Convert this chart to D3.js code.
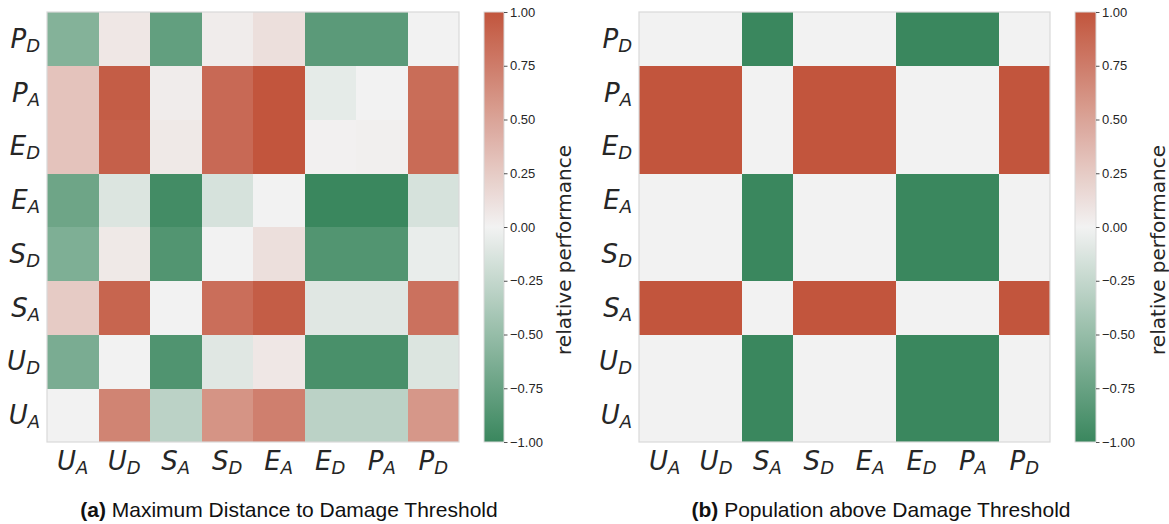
<!DOCTYPE html>
<html>
<head>
<meta charset="utf-8">
<script src="https://cdn.jsdelivr.net/npm/d3@7/dist/d3.min.js"></script>
<style>
  html, body { margin: 0; padding: 0; background: #ffffff; }
  svg { display: block; }
</style>
</head>
<body>
<svg id="chart" width="1169" height="524"></svg>
<script>
// Strategies: letter = main symbol, sub = subscript
const categories = [
  { main: "U", sub: "A" }, { main: "U", sub: "D" },
  { main: "S", sub: "A" }, { main: "S", sub: "D" },
  { main: "E", sub: "A" }, { main: "E", sub: "D" },
  { main: "P", sub: "A" }, { main: "P", sub: "D" }
];

// (a) relative performance, one row per strategy (same order as categories)
const distanceRowUA = [ 0.00,  0.70, -0.30,  0.60,  0.73, -0.30, -0.30,  0.58];
const distanceRowUD = [-0.65,  0.00, -0.88, -0.10,  0.07, -0.92, -0.92, -0.12];
const distanceRowSA = [ 0.25,  0.90,  0.00,  0.84,  0.95, -0.10, -0.10,  0.82];
const distanceRowSD = [-0.63,  0.06, -0.87,  0.00,  0.12, -0.87, -0.87, -0.05];
const distanceRowEA = [-0.72, -0.12, -0.95, -0.15,  0.00, -1.00, -1.00, -0.15];
const distanceRowED = [ 0.30,  0.93,  0.06,  0.87,  1.00,  0.01,  0.02,  0.86];
const distanceRowPA = [ 0.30,  0.95,  0.04,  0.87,  1.00, -0.07,  0.00,  0.85];
const distanceRowPD = [-0.60,  0.07, -0.78,  0.04,  0.12, -0.82, -0.82,  0.00];

// (b) relative performance, one row per strategy
const populationRowUA = [0, 0, -1, 0, 0, -1, -1, 0];
const populationRowUD = [0, 0, -1, 0, 0, -1, -1, 0];
const populationRowSA = [1, 1,  0, 1, 1,  0,  0, 1];
const populationRowSD = [0, 0, -1, 0, 0, -1, -1, 0];
const populationRowEA = [0, 0, -1, 0, 0, -1, -1, 0];
const populationRowED = [1, 1,  0, 1, 1,  0,  0, 1];
const populationRowPA = [1, 1,  0, 1, 1,  0,  0, 1];
const populationRowPD = [0, 0, -1, 0, 0, -1, -1, 0];

const colorbarTicks = [-1, -0.75, -0.5, -0.25, 0, 0.25, 0.5, 0.75, 1];
const colorbarLabel = "relative performance";
const panelTitles = [
  { tag: "(a)", text: " Maximum Distance to Damage Threshold" },
  { tag: "(b)", text: " Population above Damage Threshold" }
];

const distanceMatrix = [distanceRowUA, distanceRowUD, distanceRowSA, distanceRowSD,
                        distanceRowEA, distanceRowED, distanceRowPA, distanceRowPD];
const populationMatrix = [populationRowUA, populationRowUD, populationRowSA, populationRowSD,
                          populationRowEA, populationRowED, populationRowPA, populationRowPD];

// diverging green - light grey - red map
const color = d3.scaleLinear()
  .domain([-1, 0, 1])
  .range(["#3a875e", "#f2f2f2", "#c2553d"])
  .interpolate(d3.interpolateRgb)
  .clamp(true);

const svg = d3.select("#chart");
const defs = svg.append("defs");

const grad = defs.append("linearGradient")
  .attr("id", "cbar-grad")
  .attr("x1", 0).attr("y1", 1).attr("x2", 0).attr("y2", 0);
d3.range(0, 41).forEach(i => {
  const v = -1 + i * 2 / 40;
  grad.append("stop").attr("offset", (i / 40)).attr("stop-color", color(v));
});

const keyOf = c => c.main + "_" + c.sub;

function mathLabel(sel, c) {
  sel.append("tspan").text(c.main);
  sel.append("tspan")
    .attr("font-size", 18)
    .attr("dy", 4)
    .text(c.sub);
}

function drawPanel(cfg) {
  const g = svg.append("g");
  const x = d3.scaleBand().domain(categories.map(keyOf)).range([cfg.x0, cfg.x1]);
  const y = d3.scaleBand().domain(categories.map(keyOf)).range([cfg.y1, cfg.y0]);

  const cells = [];
  cfg.matrix.forEach((row, ri) => row.forEach((v, ci) => {
    cells.push({ r: keyOf(categories[ri]), c: keyOf(categories[ci]), v });
  }));

  g.append("g").selectAll("rect").data(cells).join("rect")
    .attr("x", d => x(d.c))
    .attr("y", d => y(d.r))
    .attr("width", x.bandwidth() + 0.4)
    .attr("height", y.bandwidth() + 0.4)
    .attr("fill", d => color(d.v))
    .attr("shape-rendering", "crispEdges");

  // frame
  g.append("rect")
    .attr("x", cfg.x0).attr("y", cfg.y0)
    .attr("width", cfg.x1 - cfg.x0).attr("height", cfg.y1 - cfg.y0)
    .attr("fill", "none").attr("stroke", "#d9d9d9").attr("stroke-width", 1.2);

  // y tick labels
  g.append("g").selectAll("text").data(categories).join("text")
    .attr("x", cfg.x0 - 7)
    .attr("y", d => y(keyOf(d)) + y.bandwidth() / 2 + 9)
    .attr("text-anchor", "end")
    .attr("font-family", "DejaVu Sans")
    .attr("font-style", "italic")
    .attr("font-size", 26)
    .attr("fill", "#262626")
    .each(function (d) { mathLabel(d3.select(this), d); });

  // x tick labels
  g.append("g").selectAll("text").data(categories).join("text")
    .attr("x", d => x(keyOf(d)) + x.bandwidth() / 2)
    .attr("y", cfg.y1 + 28)
    .attr("text-anchor", "middle")
    .attr("font-family", "DejaVu Sans")
    .attr("font-style", "italic")
    .attr("font-size", 26)
    .attr("fill", "#262626")
    .each(function (d) { mathLabel(d3.select(this), d); });

  // colorbar
  const cy = d3.scaleLinear().domain([-1, 1]).range([cfg.y1, cfg.y0]);
  g.append("rect")
    .attr("x", cfg.cb0).attr("y", cfg.y0)
    .attr("width", cfg.cbw).attr("height", cfg.y1 - cfg.y0)
    .attr("fill", "url(#cbar-grad)")
    .attr("stroke", "#d9d9d9").attr("stroke-width", 1);

  const axis = d3.axisRight(cy)
    .tickValues(colorbarTicks)
    .tickFormat(d3.format(".2f"))
    .tickSize(3.5)
    .tickPadding(2.5);
  const ag = g.append("g")
    .attr("transform", `translate(${cfg.cb0 + cfg.cbw},0)`)
    .call(axis);
  ag.select(".domain").remove();
  ag.selectAll(".tick line").attr("stroke", "#262626").attr("stroke-width", 0.8);
  ag.selectAll(".tick text")
    .attr("font-family", "Liberation Sans, Arial, sans-serif")
    .attr("font-size", 13)
    .attr("fill", "#262626");

  g.append("text")
    .attr("transform", `translate(${cfg.labelX},${cfg.labelY}) rotate(-90)`)
    .attr("text-anchor", "middle")
    .attr("font-family", "DejaVu Sans")
    .attr("font-size", 20)
    .attr("fill", "#262626")
    .text(colorbarLabel);

  // caption
  const t = g.append("text")
    .attr("x", cfg.titleX).attr("y", 517)
    .attr("text-anchor", "middle")
    .attr("font-family", "Liberation Sans, Arial, sans-serif")
    .attr("font-size", 21)
    .attr("fill", "#111");
  t.append("tspan").attr("font-weight", "bold").text(cfg.title.tag);
  t.append("tspan").text(cfg.title.text);
}

drawPanel({
  matrix: distanceMatrix, x0: 47, x1: 459, y0: 12, y1: 442,
  cb0: 484, cbw: 20, labelX: 571, labelY: 250, titleX: 289, title: panelTitles[0]
});
drawPanel({
  matrix: populationMatrix, x0: 639, x1: 1050, y0: 12, y1: 442,
  cb0: 1075, cbw: 21, labelX: 1165, labelY: 250, titleX: 881, title: panelTitles[1]
});
</script>
</body>
</html>
